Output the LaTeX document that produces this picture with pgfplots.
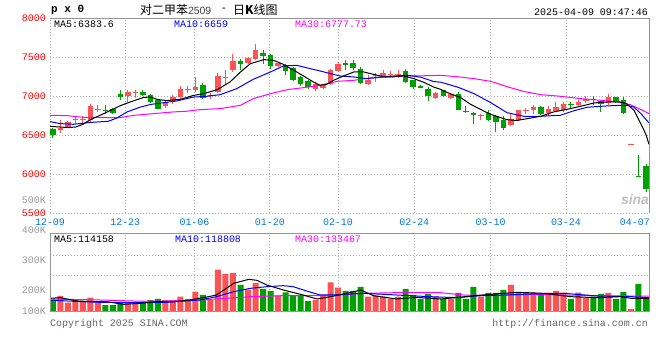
\documentclass[border=0pt]{standalone}
\usepackage{fontspec}
\setmonofont{Liberation Mono}
\newfontfamily\cjk{Noto Sans CJK SC}
\newfontfamily\sansf{Liberation Sans}
\usepackage{pgfplots}
\pgfplotsset{compat=1.18}
\usepackage{pgfplotstable}
\definecolor{cred}{RGB}{250,84,84}
\definecolor{cgreen}{RGB}{0,160,0}
\definecolor{tickblue}{RGB}{0,120,215}
\definecolor{gridc}{RGB}{175,175,175}
\definecolor{framec}{RGB}{150,150,150}
\definecolor{magen}{RGB}{255,0,255}
\newcommand\mono{\ttfamily\fontsize{10}{10}\selectfont}

\pgfplotstableread{
i o h l c v
1 6564 6701 6530 6594 135
2 6607 6680 6594 6671 75
3 6695 6744 6650 6708 99
4 6695 6744 6650 6708 90
5 6701 6906 6671 6872 120
6 6821 6885 6800 6842 78
10 7000 7077 6927 7051 78
11 7038 7077 6979 7051 78
15 6872 6949 6850 6927 99
16 6936 7013 6906 6991 99
17 6991 7128 6970 7090 129
18 7075 7135 7040 7088 108
19 7080 7250 7060 7113 174
21 7005 7043 6960 7018 99
22 7056 7299 7040 7260 372
23 7230 7342 7150 7243 333
24 7333 7540 7311 7449 342
26 7427 7510 7415 7491 192
27 7474 7666 7465 7589 252
30 7390 7440 7380 7427 138
35 7092 7184 7068 7162 99
36 7105 7160 7095 7150 144
37 7158 7346 7148 7333 258
38 7322 7440 7312 7416 210
42 7162 7278 7150 7213 129
43 7262 7299 7184 7275 138
44 7260 7342 7248 7303 129
45 7278 7325 7248 7291 108
46 7275 7342 7235 7288 129
51 6979 7055 6965 7043 129
53 6979 7046 6965 7034 108
57 6752 6778 6692 6765 129
61 6629 6778 6616 6714 234
62 6692 6829 6680 6821 165
63 6815 6850 6770 6828 165
64 6829 6885 6770 6863 165
66 6791 6872 6744 6842 165
67 6812 6928 6800 6863 180
68 6829 6928 6800 6898 165
70 6885 6949 6872 6927 165
71 6936 7000 6915 6970 120
74 6915 7034 6885 6991 162
77 6380 6390 6380 6392 18
}\redc

\pgfplotstableread{
i o h l c v
0 6586 6595 6470 6500 99
7 6828 6885 6778 6815 54
8 6833 6850 6770 6786 54
9 7026 7077 6949 6991 78
12 7055 7085 7004 7021 84
13 7021 7034 6915 6927 99
14 6957 6970 6833 6842 108
20 7141 7168 6962 6979 144
25 7453 7475 7333 7418 234
28 7555 7592 7418 7521 198
29 7528 7545 7350 7392 180
31 7395 7410 7275 7328 168
32 7365 7376 7192 7206 135
33 7248 7258 7132 7154 135
34 7192 7205 7090 7117 90
39 7431 7461 7333 7395 180
40 7427 7461 7342 7367 180
41 7346 7376 7162 7171 216
47 7320 7354 7175 7184 198
48 7205 7215 7090 7120 144
49 7130 7140 7100 7107 108
50 7098 7120 6936 7004 153
52 7077 7085 6990 7004 108
54 7026 7055 6821 6829 162
55 6815 6872 6786 6802 108
56 6786 6800 6641 6757 216
58 6786 6820 6680 6701 162
59 6744 6757 6543 6671 162
60 6701 6744 6573 6594 189
65 6863 6872 6757 6770 144
69 6905 6928 6855 6892 108
72 6962 7000 6890 6949 129
73 6940 6949 6800 6898 153
75 6991 6995 6915 6940 108
76 6949 6991 6778 6786 171
78 5978 6244 5965 5966 243
79 6103 6128 5773 5817 108
}\greenc

\begin{document}
\begin{tikzpicture}
\path[use as bounding box] (0,0) rectangle (660bp,360bp);
\fill[white] (0,0) rectangle (660bp,360bp);

% ---------------- price panel ----------------
\begin{axis}[
  at={(50bp,146.7bp)}, anchor=south west, scale only axis,
  width=599bp, height=195bp,
  xmin=-0.37, xmax=79.4, ymin=5500, ymax=8000,
  clip mode=individual,
  axis line style={draw=none},
  major tick length=0pt,
  ytick={5500,6000,6500,7000,7500,8000},
  yticklabels={5500,6000,6500,7000,7500,8000},
  ymajorgrids,
  grid style={gridc, dash pattern=on 1bp off 2bp, line width=0.9bp},
  yticklabel style={font=\mono, text=red, inner sep=0pt, xshift=-4bp},
  xtick={-0.37,9.65,18.87,28.92,37.98,48.14,58.31,68.34,77.52},
  xticklabels={12-09,12-23,01-06,01-20,02-10,02-24,03-10,03-24,04-07},
  xticklabel style={font=\mono, text=tickblue, inner sep=0pt, yshift=-5bp},
  extra x ticks={-0.37,9.65,18.87,28.92,37.98,48.14,58.31,68.34},
  extra x tick labels={},
  extra x tick style={grid=major},
  candle/.style 2 args={draw=none, mark=none, forget plot,
    error bars/.cd, y dir=plus, y explicit, error mark=none,
    error bar style={draw=#1, line width=#2}},
]
% wicks
\addplot[candle={cred}{1bp}]
  table[x=i, y=l, y error expr=\thisrow{h}-\thisrow{l}] \redc;
\addplot[candle={cgreen}{1bp}]
  table[x=i, y=l, y error expr=\thisrow{h}-\thisrow{l}] \greenc;
% bodies
\addplot[candle={cred}{5.5bp}]
  table[x=i, y=o, y error expr=\thisrow{c}-\thisrow{o}] \redc;
\addplot[candle={cgreen}{5.5bp}]
  table[x=i, y=c, y error expr=\thisrow{o}-\thisrow{c}] \greenc;
% MA30
\addplot[magen, line width=1bp] coordinates {
(-0.37,6757) (1.9,6752) (4.1,6730) (9.0,6727) (10.7,6755) (13.4,6778) (16.1,6800) (17.8,6808) (19.6,6829) (22.3,6842) (25.0,6885) (26.7,6970) (29.0,7034) (31.2,7085) (33.4,7111) (35.6,7141) (37.9,7192) (40.1,7205) (42.3,7235) (44.5,7248) (46.7,7260) (49.0,7262) (51.6,7269) (54.0,7250) (56.2,7225) (58.4,7190) (60.6,7120) (62.8,7060) (65.0,7021) (67.6,7000) (70.3,6970) (72.9,6949) (75.2,6927) (77.0,6890) (78.3,6830) (79.4,6778)};
% MA10
\addplot[blue, line width=1bp] coordinates {
(-0.37,6675) (1.0,6650) (2.7,6641) (5.0,6665) (7.4,6680) (8.5,6720) (9.9,6800) (11.6,6860) (13.0,6895) (14.3,6912) (16.5,6940) (18.7,6990) (20.5,7000) (22.3,7021) (24.5,7098) (26.7,7218) (29.0,7312) (30.7,7389) (32.5,7397) (34.3,7354) (35.6,7325) (37.0,7290) (38.3,7260) (40.1,7248) (41.9,7226) (43.6,7248) (45.4,7260) (47.2,7270) (49.0,7245) (50.7,7190) (51.7,7180) (54.0,7115) (56.1,7034) (58.3,6920) (60.5,6790) (62.7,6744) (65.0,6744) (67.6,6757) (69.4,6815) (71.2,6860) (73.0,6872) (74.7,6881) (76.5,6885) (77.4,6860) (78.3,6780) (79.4,6659)};
% MA5
\addplot[black, line width=1bp] coordinates {
(-0.37,6615) (1.9,6600) (3.0,6605) (4.0,6640) (5.0,6700) (6.3,6757) (7.6,6815) (9.0,6880) (10.3,6927) (12.1,6985) (13.0,6991) (13.9,6960) (15.2,6945) (17.0,6962) (18.7,7010) (20.1,7034) (21.9,7085) (23.6,7184) (25.0,7312) (26.3,7418) (28.1,7470) (29.4,7461) (30.7,7410) (32.1,7333) (33.4,7260) (34.7,7184) (35.6,7141) (36.5,7155) (37.4,7205) (38.7,7260) (40.1,7312) (41.4,7312) (42.7,7282) (44.1,7250) (45.4,7250) (46.7,7262) (48.1,7226) (49.4,7180) (50.7,7120) (51.6,7090) (53.0,7030) (54.3,6985) (55.6,6900) (57.4,6810) (58.7,6755) (60.5,6700) (61.8,6690) (63.2,6714) (65.0,6744) (66.7,6800) (68.5,6833) (70.3,6872) (72.1,6915) (73.9,6927) (75.6,6927) (76.5,6900) (77.4,6820) (78.3,6650) (79.0,6510) (79.4,6384)};
\draw[framec, line width=1bp] (rel axis cs:0,1) -- (rel axis cs:1,1) -- (rel axis cs:1,0);
\end{axis}

% ---------------- volume panel ----------------
\begin{axis}[
  at={(50bp,49bp)}, anchor=south west, scale only axis,
  width=599bp, height=77bp,
  xmin=-0.37, xmax=79.4, ymin=0, ymax=693,
  clip mode=individual,
  axis line style={draw=none},
  major tick length=0pt,
  ytick={324,504}, yticklabels={},
  xtick={-0.37,9.65,18.87,28.92,37.98,48.14,58.31,68.34}, xticklabels={},
  xmajorgrids, ymajorgrids,
  grid style={gridc, dash pattern=on 1bp off 2bp, line width=0.9bp},
]
\addplot[ybar, bar width=6bp, bar shift=0pt, fill=cred, draw=none, forget plot] table[x=i, y=v] \redc;
\addplot[ybar, bar width=6bp, bar shift=0pt, fill=cgreen, draw=none, forget plot] table[x=i, y=v] \greenc;
\addplot[magen, line width=1bp] coordinates {
(-0.37,108) (6.3,99) (10.7,90) (15.2,90) (19.6,99) (23.2,114) (26.3,129) (30.7,138) (37.0,138) (41.4,159) (45.8,165) (51.6,165) (54.7,144) (59.1,138) (63.5,150) (68.0,144) (72.5,138) (79.4,133)};
\addplot[blue, line width=1bp] coordinates {
(-0.37,99) (1.9,90) (6.3,78) (10.7,75) (15.2,78) (19.6,99) (21.8,129) (24.1,174) (26.3,204) (28.5,219) (30.7,228) (32.0,219) (33.8,180) (35.6,144) (37.0,144) (41.4,159) (45.8,144) (50.2,129) (53.8,120) (57.0,138) (60.1,144) (63.7,153) (68.1,159) (72.5,135) (77.0,129) (79.4,119)};
\addplot[black, line width=1bp] coordinates {
(-0.37,114) (1.0,120) (3.2,90) (5.4,84) (7.2,84) (9.4,60) (11.6,69) (13.8,84) (16.1,84) (18.3,99) (20.5,126) (21.8,144) (24.1,249) (26.1,285) (27.2,276) (28.5,234) (30.7,189) (33.0,150) (35.2,108) (37.0,129) (39.2,159) (41.0,189) (42.7,138) (45.8,108) (48.5,123) (51.6,108) (54.1,123) (56.1,138) (60.1,159) (61.9,168) (65.4,159) (69.0,129) (72.5,120) (75.6,129) (77.0,114) (79.4,114)};
\draw[framec, line width=1bp] (rel axis cs:0,0) rectangle (rel axis cs:1,1);
\end{axis}

% ---------------- texts ----------------
\node[anchor=west, inner sep=0pt] at (51bp,350bp) {\ttfamily\bfseries\fontsize{11}{11}\selectfont p x 0};
\node[anchor=west, inner sep=0pt] at (140bp,350.5bp) {\cjk\fontsize{12}{12}\selectfont 对二甲苯{\sansf\fontsize{10.5}{10.5}\selectfont\color{black!75}2509}};
\node[inner sep=0pt] at (224bp,350.5bp) {\sansf\fontsize{11}{11}\selectfont -};
\node[anchor=west, inner sep=0pt] at (233bp,350.5bp) {\cjk\fontsize{12}{12}\selectfont 日\textbf{K}线图};
\node[anchor=east, inner sep=0pt] at (648bp,347.7bp) {\mono 2025-04-09 09:47:46};

\node[anchor=west, inner sep=0pt] at (54bp,336bp) {\mono MA5:6383.6};
\node[anchor=west, inner sep=0pt, text=blue] at (174bp,336bp) {\mono MA10:6659};
\node[anchor=west, inner sep=0pt, text=magen] at (295bp,336bp) {\mono MA30:6777.73};

\node[anchor=west, inner sep=0pt] at (54bp,121bp) {\mono MA5:114158};
\node[anchor=west, inner sep=0pt, text=blue] at (175bp,121bp) {\mono MA10:118808};
\node[anchor=west, inner sep=0pt, text=magen] at (295bp,121bp) {\mono MA30:133467};

\node[anchor=east, inner sep=0pt, text=black!40] at (46bp,159.3bp) {\mono 500K};
\node[anchor=east, inner sep=0pt, text=black!40] at (46bp,130bp) {\mono 400K};
\node[anchor=east, inner sep=0pt, text=black!40] at (46bp,100bp) {\mono 300K};
\node[anchor=east, inner sep=0pt, text=black!40] at (46bp,70bp) {\mono 200K};
\node[anchor=east, inner sep=0pt, text=black!40] at (46bp,48.3bp) {\mono 100K};

\node[anchor=west, inner sep=0pt, text=black!60] at (50bp,36bp) {\mono Copyright 2025 SINA.COM};
\node[anchor=east, inner sep=0pt, text=black!60] at (648bp,36bp) {\mono http://finance.sina.com.cn};

\node[inner sep=0pt, text=black!25] at (635bp,160bp) {\sansf\bfseries\itshape\fontsize{14}{14}\selectfont sina};
\end{tikzpicture}
\end{document}
